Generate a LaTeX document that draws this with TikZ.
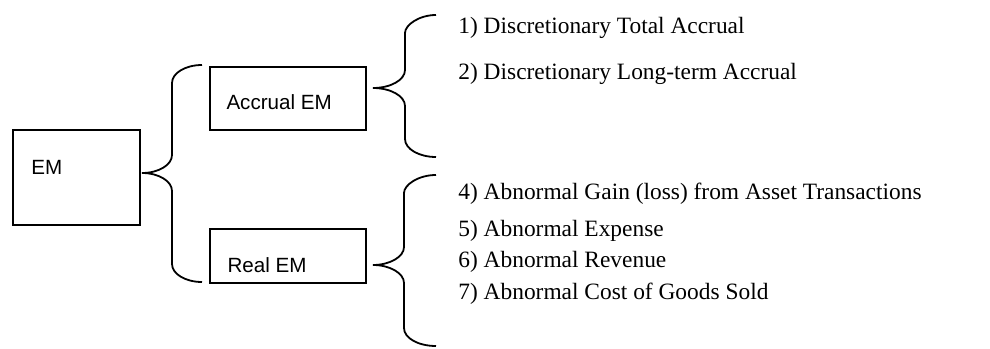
\documentclass[tikz,border=0pt]{standalone}
\usepackage{fontspec}
\setmainfont{Liberation Serif}
\newfontfamily\boxfont{Liberation Sans}
\usetikzlibrary{positioning}
\tikzset{
  box/.style   ={rectangle, draw, line width=0.9pt, inner sep=0pt, minimum width=78pt},
  boxlbl/.style={font=\boxfont\fontsize{10.3}{12}\selectfont, inner sep=0pt, anchor=west},
  item/.style  ={font=\fontsize{11.7}{14}\selectfont, inner sep=0pt, anchor=west},
  brc/.style   ={line width=0.9pt},
}
\begin{document}
\begin{tikzpicture}[x=0.5pt, y=-0.5pt]
  \useasboundingbox (0,0) rectangle (990,348);
  % boxes
  \node[box, minimum width=63.5pt, minimum height=47.5pt] (em) at (76.5,177.5) {};
  \node[box, minimum height=31.5pt] (acc) at (288,98.5) {};
  \node[box, minimum height=27pt, below=48.5pt of acc] (real) {};
  \node[boxlbl] (emtxt) at ([xshift=9.5pt, yshift=5.25pt]em.west) {EM};
  \node[boxlbl] (acctxt) at ([xshift=8.5pt, yshift=-1.75pt]acc.west) {Accrual EM};
  \node[boxlbl] (realtxt) at ([xshift=9pt, yshift=-4.5pt]real.west) {Real EM};
  % items
  \node[item] (it1) at (458,28) {1) Discretionary Total Accrual};
  \node[item] (it2) at (458,73.5) {2) Discretionary Long-term Accrual};
  \node[item] (it4) at (458,194) {4) Abnormal Gain (loss) from Asset Transactions};
  \node[item] (it5) at (458,231) {5) Abnormal Expense};
  \node[item] (it6) at (458,262) {6) Abnormal Revenue};
  \node[item] (it7) at (458,294) {7) Abnormal Cost of Goods Sold};
  % braces
  \coordinate (b1e) at (202,65);
  \coordinate (b1t) at (142,173);
  \coordinate (b1s) at (202,282);
  \coordinate (b2e) at (436,15);
  \coordinate (b2t) at (373,88);
  \coordinate (b2s) at (436,157);
  \coordinate (b3e) at (436,175);
  \coordinate (b3t) at (373,265);
  \coordinate (b3s) at (436,346);
  \draw[brc] (b1e) .. controls (185.5,65) and (172,73) .. (172,83) -- (172,155)
    .. controls (172,165) and (158.5,173) .. (b1t)
    .. controls (158.5,173) and (172,181) .. (172,191)
    -- (172,264) .. controls (172,274) and (185.5,282) .. (b1s);
  \draw[brc] (b2e) .. controls (419,15) and (405,25) .. (405,33) -- (405,70)
    .. controls (405,80) and (390.5,88) .. (b2t)
    .. controls (390.5,88) and (405,96) .. (405,106)
    -- (405,139) .. controls (405,149) and (419,157) .. (b2s);
  \draw[brc] (b3e) .. controls (418,175) and (404,185) .. (404,193) -- (404,247)
    .. controls (404,257) and (389.5,265) .. (b3t)
    .. controls (389.5,265) and (404,273) .. (404,283)
    -- (404,328) .. controls (404,338) and (418,346) .. (b3s);
\end{tikzpicture}
\end{document}
